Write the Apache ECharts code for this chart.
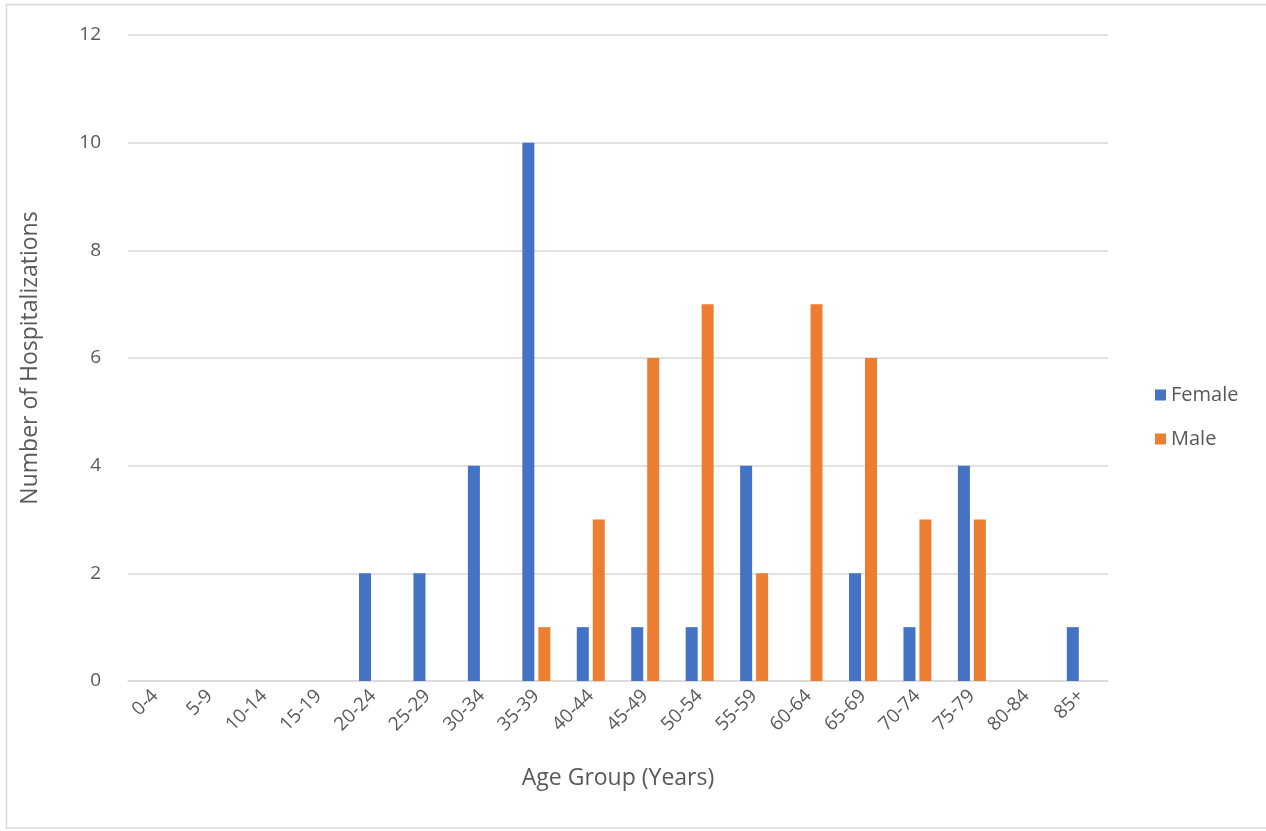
<!DOCTYPE html>
<html>
<head>
<meta charset="utf-8">
<style>
  html, body { margin: 0; padding: 0; background: #ffffff; }
  #chart { width: 1266px; height: 831px; }
</style>
<script src="https://cdn.jsdelivr.net/npm/echarts@6/dist/echarts.min.js"></script>
</head>
<body>
<div id="chart"></div>
<script>
// Hospitalizations by age group and sex
const ageGroups = ['0-4', '5-9', '10-14', '15-19', '20-24', '25-29', '30-34', '35-39', '40-44',
  '45-49', '50-54', '55-59', '60-64', '65-69', '70-74', '75-79', '80-84', '85+'];
const female = [0, 0, 0, 0, 2, 2, 4, 10, 1, 1, 1, 4, 0, 2, 1, 4, 0, 1];
const male   = [0, 0, 0, 0, 0, 0, 0, 1, 3, 6, 7, 2, 7, 6, 3, 3, 0, 0];
const yTicks = { min: 0, max: 12, interval: 2 };

const FONT = '"Open Sans", "Liberation Sans", sans-serif';
const TEXT = '#595959';

const chart = echarts.init(document.getElementById('chart'), null, { renderer: 'canvas' });
chart.setOption({
  animation: false,
  backgroundColor: '#ffffff',
  textStyle: { fontFamily: FONT },
  graphic: [{
    type: 'rect',
    shape: { x: 6.5, y: 4.5, width: 1265, height: 823.5 },
    style: { fill: 'none', stroke: '#d9d9d9', lineWidth: 1.5 },
    silent: true
  }],
  grid: { left: 128, right: 158, top: 35, bottom: 150 },
  legend: {
    orient: 'vertical',
    left: 1150,
    top: 380,
    itemWidth: 11,
    itemHeight: 11,
    itemGap: 24,
    icon: 'rect',
    textStyle: { color: TEXT, fontSize: 20, fontFamily: FONT },
    data: ['Female', 'Male']
  },
  xAxis: {
    type: 'category',
    data: ageGroups,
    name: 'Age Group (Years)',
    nameLocation: 'middle',
    nameGap: 86,
    nameTextStyle: { color: TEXT, fontSize: 23, fontFamily: FONT },
    axisLine: { lineStyle: { color: '#d9d9d9', width: 1.5 } },
    axisTick: { show: false },
    axisLabel: { rotate: 45, color: TEXT, fontSize: 19, margin: 12, interval: 0, fontFamily: FONT }
  },
  yAxis: {
    type: 'value',
    min: yTicks.min,
    max: yTicks.max,
    interval: yTicks.interval,
    name: 'Number of Hospitalizations',
    nameLocation: 'middle',
    nameGap: 86,
    nameTextStyle: { color: TEXT, fontSize: 23, fontFamily: FONT },
    axisLine: { show: false },
    axisTick: { show: false },
    axisLabel: { color: TEXT, fontSize: 19, margin: 27, fontFamily: FONT },
    splitLine: { lineStyle: { color: '#d9d9d9', width: 1.5 } }
  },
  series: [
    {
      name: 'Female',
      type: 'bar',
      data: female,
      barWidth: 12,
      barGap: '33%',
      itemStyle: { color: '#4472c4' }
    },
    {
      name: 'Male',
      type: 'bar',
      data: male,
      barWidth: 12,
      barGap: '33%',
      itemStyle: { color: '#ed7d31' }
    }
  ]
});
</script>
</body>
</html>
